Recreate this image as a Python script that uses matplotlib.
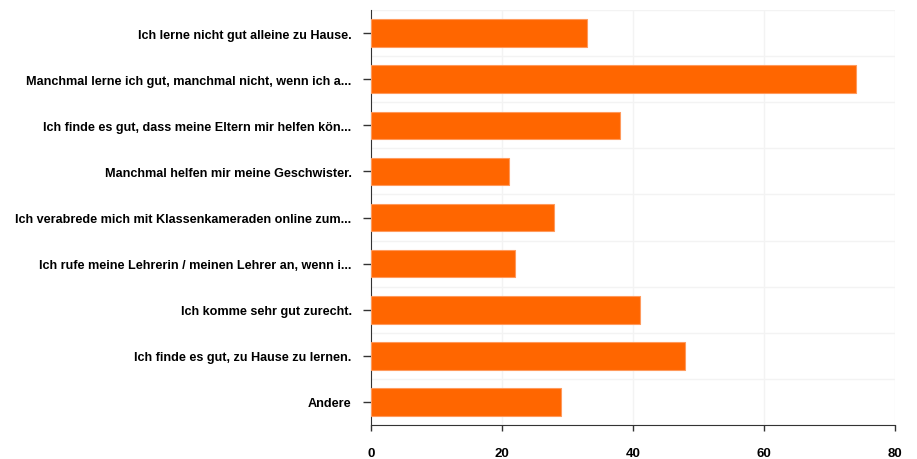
import matplotlib
matplotlib.use("Agg")
import matplotlib.pyplot as plt
import numpy as np

labels = [
    "Ich lerne nicht gut alleine zu Hause.",
    "Manchmal lerne ich gut, manchmal nicht, wenn ich a...",
    "Ich finde es gut, dass meine Eltern mir helfen kön...",
    "Manchmal helfen mir meine Geschwister.",
    "Ich verabrede mich mit Klassenkameraden online zum...",
    "Ich rufe meine Lehrerin / meinen Lehrer an, wenn i...",
    "Ich komme sehr gut zurecht.",
    "Ich finde es gut, zu Hause zu lernen.",
    "Andere",
]
values = [33, 74, 38, 21, 28, 22, 41, 48, 29]
xticks = [0, 20, 40, 60, 80]

plt.rcParams['font.family'] = ['Liberation Sans', 'DejaVu Sans']

fig = plt.figure(figsize=(9.17, 4.6), dpi=100)
ax = fig.add_axes([0.4046, 0.0739, 0.5714, 0.902])

y = np.arange(len(labels))
ax.barh(y, values, height=0.6, color='#ff6600', edgecolor='#ff9a5c', linewidth=0.8, zorder=3)

ax.set_ylim(len(labels) - 0.5, -0.5)
ax.set_xlim(0, 80)
ax.set_yticks(y)
ax.set_yticklabels(labels, fontsize=9.1, fontweight='bold')
ax.set_xticks(xticks)
ax.set_xticklabels([str(t) for t in xticks], fontsize=9.5, fontweight='bold')

# faint grid: vertical at ticks, horizontal between categories
for t in xticks[1:]:
    ax.axvline(t, color='#f3f3f3', linewidth=1, zorder=1)
for b in np.arange(-0.5, len(labels), 1.0):
    ax.axhline(b, color='#f3f3f3', linewidth=1, zorder=1)

for s in ['top', 'right']:
    ax.spines[s].set_visible(False)
ax.spines['left'].set_color('#333333')
ax.spines['bottom'].set_color('#333333')
ax.tick_params(axis='y', length=5.5, width=1, color='#333333', pad=8.5)
ax.tick_params(axis='x', length=4.5, width=1, color='#333333', pad=11)

fig.savefig("out.png", dpi=100)
